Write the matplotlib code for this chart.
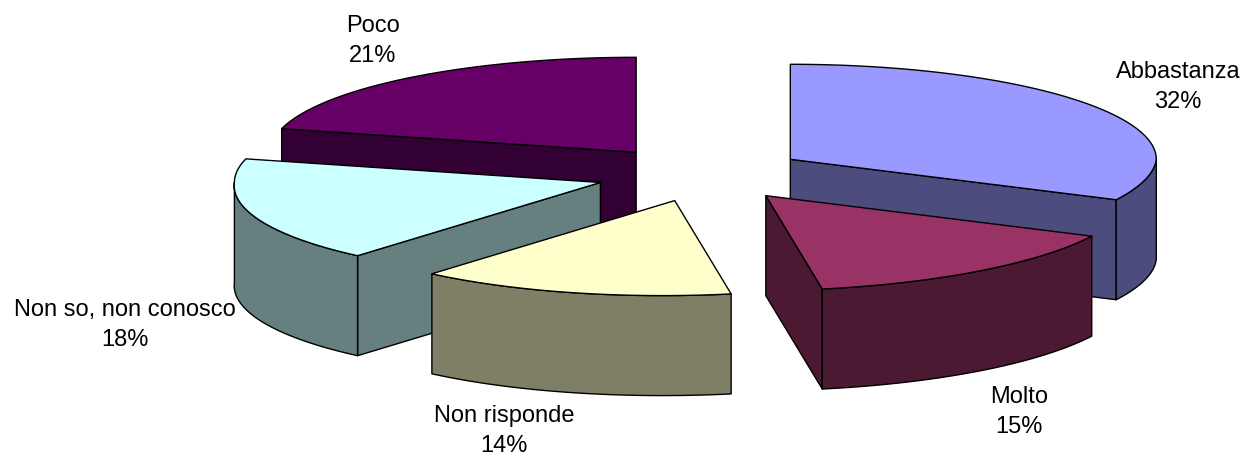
import matplotlib
matplotlib.use("Agg")
import matplotlib.pyplot as plt
import numpy as np
from matplotlib.patches import Polygon

labels = ["Abbastanza", "Molto", "Non risponde", "Non so, non conosco", "Poco"]
values = [32, 15, 14, 18, 21]
top_colors = ["#9999FF", "#993366", "#FFFFCC", "#CCFFFF", "#660066"]
side_colors = ["#4C4C7F", "#4C1933", "#7F7F66", "#667F7F", "#330033"]
label_pos = [(1178, 87), (1019, 412), (504, 431), (125, 325), (373, 41)]
draw_order = [4, 0, 3, 1, 2]  # back to front

# pie geometry in pixels
cx, cy = 701, 174
rx, ry = 366, 95
explode = 0.289
depth = 100
skew = 0.13  # front of the rim leans left in the original

plt.rcParams["font.family"] = ["Liberation Sans", "DejaVu Sans"]
fig = plt.figure(figsize=(12.48, 4.55), dpi=100)
ax = fig.add_axes([0, 0, 1, 1])
ax.set_xlim(0, 1248)
ax.set_ylim(455, 0)
ax.axis("off")


def rim(deg, ox, oy):
    t = np.radians(deg)
    dy = -ry * np.cos(t)
    return ox + rx * np.sin(t) - skew * np.maximum(dy, 0), oy + dy


def poly(xs, ys, color, z):
    pts = np.column_stack([xs, ys])
    ax.add_patch(Polygon(pts, closed=True, facecolor=color, edgecolor="black",
                         linewidth=1.0, joinstyle="round", zorder=z))


edges = np.concatenate([[0], np.cumsum(values)]) / sum(values) * 360
z = 1
for i in draw_order:
    a, b = edges[i], edges[i + 1]
    mid = np.radians((a + b) / 2)
    ox = cx + explode * rx * np.sin(mid)
    oy = cy - explode * ry * np.cos(mid)

    # cut faces, only the ones turned to the viewer
    for ang, show in ((a, np.sin(np.radians(a)) < -1e-6), (b, np.sin(np.radians(b)) > 1e-6)):
        if show:
            ex, ey = rim(ang, ox, oy)
            poly([ox, ex, ex, ox], [oy, ey, ey + depth, oy + depth], side_colors[i], z)
            z += 1

    # outer wall, front half of the rim
    w0, w1 = max(a, 90), min(b, 270)
    if w1 > w0:
        ang = np.linspace(w0, w1, 80)
        wx, wy = rim(ang, ox, oy)
        poly(np.r_[wx, wx[::-1]], np.r_[wy, wy[::-1] + depth], side_colors[i], z)
        z += 1

    # top face
    ang = np.linspace(a, b, 160)
    tx, ty = rim(ang, ox, oy)
    poly(np.r_[ox, tx], np.r_[oy, ty], top_colors[i], z)
    z += 1

for name, val, pos in zip(labels, values, label_pos):
    ax.text(pos[0], pos[1], name + "\n" + str(val) + "%", ha="center", va="center",
            fontsize=17, linespacing=1.5, color="black", zorder=z)

fig.savefig("out.png", dpi=100)
